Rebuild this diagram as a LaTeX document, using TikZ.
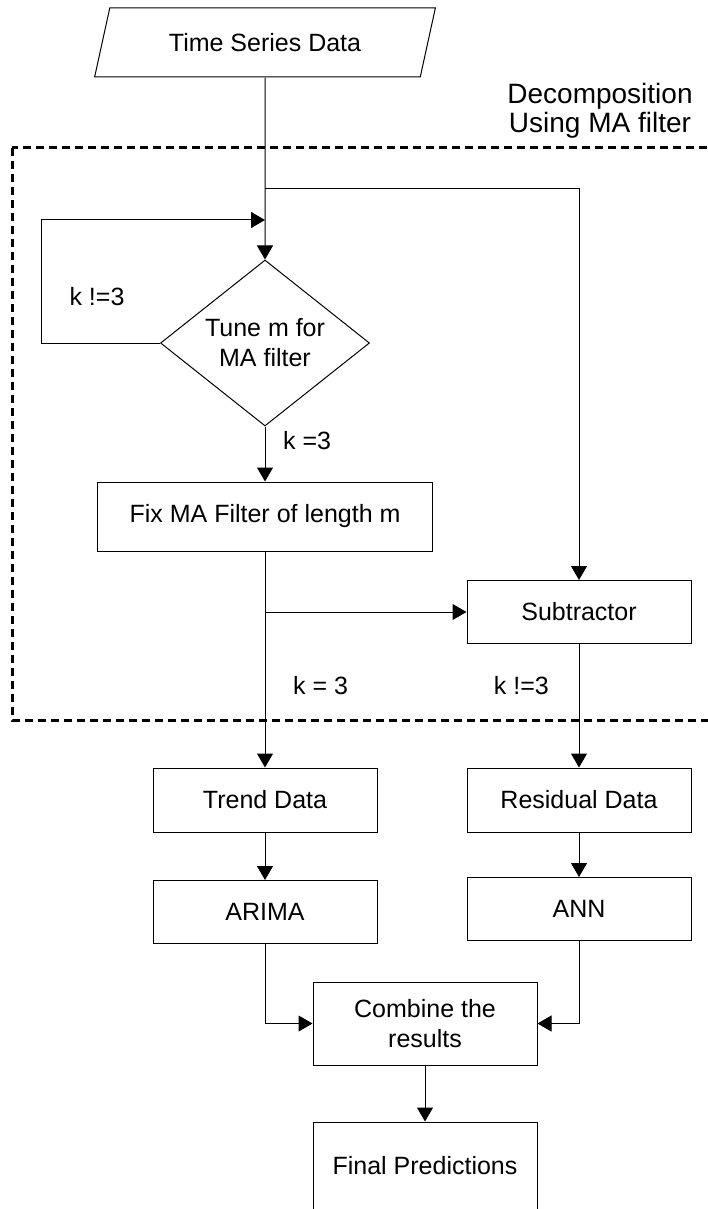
\documentclass[tikz,border=0pt]{standalone}
\usepackage{fontspec}
\setmainfont{Liberation Sans}
\usetikzlibrary{shapes.geometric,arrows.meta}

\begin{document}
\begin{tikzpicture}[x=0.5pt,y=-0.5pt,line width=0.5pt,
        font=\fontsize{12.5}{15}\selectfont,
        >={Triangle[length=7pt,width=8pt]},
        main/.style = {draw, rectangle, minimum width=112pt, minimum height=31.5pt, inner sep=0pt, align=center},
        io/.style = {draw, trapezium, trapezium left angle=63, trapezium right angle=117, trapezium stretches=true, minimum width=170.5pt, minimum height=34.5pt, inner sep=0pt},
        dec/.style = {draw, diamond, aspect=1.26, minimum width=104.5pt, minimum height=83pt, inner sep=0pt, align=center},
        group/.style = {line width=1.5pt, dash pattern=on 4pt off 2.5pt}]
        \useasboundingbox (0,0) rectangle (707,1209);
        \draw[group] (12,148) rectangle (730,720);
        \node[io] (1) at (265,42.5) {Time Series Data};
        \node[dec] (2) at (265,343) {Tune m for\\MA filter};
        \node[main, minimum width=167.5pt, minimum height=34.5pt] (3) at (265,516.5) {Fix MA Filter of length m};
        \node[main] (4) at (579,612) {Subtractor};
        \node[main, minimum height=32pt] (5) at (265,800) {Trend Data};
        \node[main, minimum height=32pt] (6) at (579,800) {Residual Data};
        \node[main] (7) at (265,912) {ARIMA};
        \node[main] (8) at (579,909) {ANN};
        \node[main, minimum height=41.5pt] (9) at (425,1023.5) {Combine the\\results};
        \node[main, minimum height=44pt] (10) at (425,1166) {Final Predictions};
        \node[align=center, font=\fontsize{14}{14.5}\selectfont] (11) at (600,111) {Decomposition\\Using MA filter};
        \node (12) at (97,297) {k !=3};
        \coordinate (a) at (265,189);
        \coordinate (b) at (265,220);
        \coordinate (c) at (3.south |- 4.west);
        \draw[->] (1) -- (2);
        \draw[->] (a) -| (4);
        \draw[->] (2.west) -- ++(-119,0) |- (b);
        \draw[->] (2) -- (3) node [pos=0.25, right=5.5pt] {k =3};
        \draw[->] (3) -- (5) node [pos=0.62, right=10.5pt] {k = 3};
        \draw[->] (c) -- (4);
        \draw[->] (4) -- (6) node [pos=0.34, left=11.5pt] {k !=3};
        \draw[->] (5) -- (7);
        \draw[->] (6) -- (8);
        \draw[->] (7) |- (9);
        \draw[->] (8) |- (9);
        \draw[->] (9) -- (10);
\end{tikzpicture}
\end{document}
